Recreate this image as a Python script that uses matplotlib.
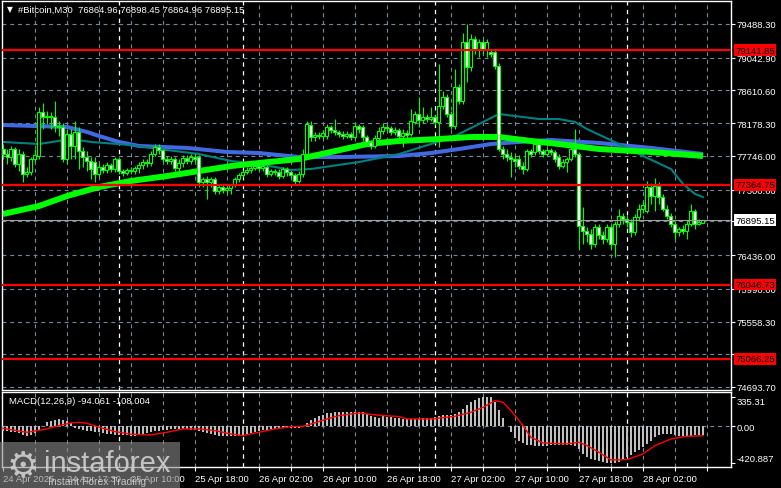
import numpy as np
import matplotlib
matplotlib.use("Agg")
import matplotlib.pyplot as plt
from matplotlib.patches import Rectangle
from matplotlib import transforms

plt.rcParams['font.family'] = ['Liberation Sans', 'DejaVu Sans']

# #Bitcoin M30 candles
opens = [77837, 77771, 77731, 77837, 77639, 77771, 77507, 77533, 77705, 77745,
         78326, 78260, 78273, 78260, 78141, 78128, 77705, 78035, 77877, 78062,
         77811, 77731, 77679, 77665, 77507, 77599, 77560, 77626, 77573, 77705,
         77546, 77520, 77560, 77546, 77586, 77626, 77665, 77652, 77771, 77864,
         77824, 77705, 77679, 77705, 77586, 77652, 77718, 77679, 77731, 77731,
         77401, 77441, 77401, 77441, 77282, 77335, 77296, 77322, 77362, 77441,
         77494, 77533, 77560, 77586, 77612, 77586, 77599, 77507, 77546, 77533,
         77480, 77573, 77533, 77494, 77415, 77507, 77771, 78154, 77996, 78022,
         78009, 78009, 78128, 78088, 78062, 78035, 78009, 78035, 77996, 78141,
         78128, 77996, 77930, 77877, 77982, 78075, 78128, 78114, 78062, 78088,
         78009, 78048, 78035, 78194, 78299, 78220, 78260, 78233, 78260, 78194,
         78405, 78524, 78299, 78141, 78656, 78471, 79251, 78920, 79290, 79158,
         79251, 79158, 79118, 79118, 78933, 77837, 77771, 77731, 77705, 77705,
         77612, 77573, 77811, 77798, 77903, 77811, 77771, 77824, 77798, 77731,
         77612, 77665, 77705, 77837, 77771, 76820, 76753, 76714, 76582, 76807,
         76701, 76649, 76807, 76582, 76846, 76952, 76913, 76873, 76741, 76939,
         77045, 77018, 77335, 77216, 77349, 77203, 77045, 76952, 76846, 76741,
         76781, 76754, 76846, 77018, 76846, 76864.96]
highs = [77903, 77837, 77877, 77864, 77837, 77811, 77599, 77731, 77837, 78392,
         78445, 78339, 78326, 78471, 78207, 78181, 78101, 78101, 78207, 78128,
         77864, 77811, 77731, 77731, 77639, 77639, 77665, 77652, 77731, 77731,
         77573, 77586, 77599, 77612, 77665, 77705, 77705, 77811, 77903, 77903,
         77837, 77745, 77745, 77731, 77705, 77758, 77758, 77771, 77771, 77758,
         77467, 77480, 77467, 77467, 77375, 77362, 77349, 77375, 77467, 77520,
         77560, 77599, 77626, 77639, 77639, 77639, 77626, 77573, 77573, 77573,
         77599, 77599, 77546, 77520, 77546, 77837, 78207, 78207, 78062, 78062,
         78088, 78167, 78154, 78233, 78088, 78075, 78075, 78062, 78181, 78167,
         78154, 78022, 77956, 78022, 78128, 78181, 78167, 78141, 78128, 78114,
         78101, 78088, 78366, 78339, 78524, 78392, 78299, 78392, 78286, 78960,
         78603, 78564, 78339, 78894, 78696, 79369, 79488, 79356, 79330, 79290,
         79290, 79290, 79158, 79158, 78973, 77877, 77837, 77798, 77771, 77758,
         77665, 77837, 77837, 77930, 77943, 77837, 77851, 77851, 77824, 77771,
         77705, 77731, 77864, 78101, 77798, 77071, 76807, 76780, 76846, 76846,
         76754, 76846, 76833, 76886, 77045, 76992, 76965, 76913, 76979, 77111,
         77150, 77415, 77388, 77454, 77401, 77243, 77098, 76992, 76886, 76807,
         76833, 76886, 77111, 77045, 76913, 76898.45]
lows = [77705, 77639, 77679, 77599, 77546, 77401, 77467, 77494, 77665, 77705,
        78101, 78167, 78101, 78062, 78009, 77665, 77639, 77705, 77705, 77573,
        77599, 77546, 77441, 77401, 77467, 77520, 77520, 77533, 77533, 77507,
        77480, 77494, 77507, 77507, 77520, 77573, 77599, 77612, 77745, 77771,
        77665, 77639, 77639, 77546, 77546, 77599, 77639, 77639, 77665, 77335,
        77335, 77177, 77335, 77243, 77243, 77256, 77256, 77243, 77335, 77401,
        77467, 77507, 77520, 77560, 77546, 77546, 77467, 77480, 77494, 77441,
        77454, 77480, 77454, 77375, 77388, 77467, 77731, 77943, 77943, 77969,
        77969, 77969, 78048, 78022, 77996, 77969, 77982, 77956, 77969, 78048,
        77943, 77890, 77837, 77851, 77956, 78035, 78075, 78022, 78022, 77969,
        77864, 77982, 78009, 78167, 78128, 78181, 78194, 78207, 78154, 77864,
        78366, 78260, 78101, 78101, 78432, 78432, 78722, 78867, 79092, 79052,
        79092, 79052, 79052, 78894, 77811, 77705, 77679, 77467, 77599, 77573,
        77507, 77546, 77731, 77758, 77771, 77731, 77745, 77758, 77665, 77573,
        77586, 77533, 77679, 77731, 76516, 76582, 76609, 76516, 76543, 76649,
        76582, 76609, 76516, 76411, 76807, 76846, 76807, 76675, 76701, 76886,
        76992, 76992, 77111, 77018, 77111, 77018, 76913, 76807, 76649, 76688,
        76714, 76649, 76820, 76781, 76833, 76864.96]
closes = [77771, 77731, 77837, 77639, 77771, 77507, 77533, 77705, 77758, 78326,
          78260, 78273, 78260, 78141, 78128, 77705, 78035, 77877, 78062, 77811,
          77731, 77679, 77573, 77507, 77599, 77560, 77626, 77573, 77705, 77546,
          77520, 77560, 77546, 77586, 77626, 77665, 77652, 77771, 77864, 77824,
          77705, 77679, 77705, 77586, 77652, 77718, 77679, 77731, 77705, 77401,
          77441, 77401, 77441, 77282, 77335, 77296, 77322, 77362, 77441, 77494,
          77533, 77560, 77586, 77612, 77586, 77612, 77507, 77546, 77533, 77480,
          77573, 77533, 77494, 77415, 77507, 77771, 78167, 77996, 78022, 78009,
          78048, 78128, 78088, 78062, 78035, 78009, 78035, 77996, 78141, 78101,
          77996, 77930, 77877, 77982, 78075, 78128, 78114, 78062, 78088, 78009,
          78048, 78022, 78207, 78299, 78220, 78260, 78233, 78260, 78194, 78405,
          78524, 78299, 78141, 78656, 78471, 79251, 78920, 79290, 79158, 79251,
          79158, 79251, 79092, 78933, 77837, 77771, 77731, 77705, 77679, 77612,
          77573, 77811, 77771, 77903, 77811, 77771, 77824, 77798, 77705, 77612,
          77665, 77705, 77837, 77771, 76820, 76753, 76714, 76582, 76807, 76701,
          76649, 76807, 76582, 76846, 76952, 76913, 76873, 76741, 76939, 77045,
          77098, 77335, 77216, 77349, 77203, 77045, 76952, 76846, 76741, 76781,
          76754, 76846, 77018, 76846, 76873, 76895.15]

# moving averages (bar index, price)
blue_idx = [0, 16, 21, 24, 29, 34, 46, 56, 64, 74, 84, 99, 107, 114, 122, 129, 137, 149, 162, 175]
blue_val = [78154, 78128, 78062, 78009, 77930, 77877, 77851, 77798, 77784, 77731,
            77731, 77745, 77784, 77837, 77903, 77930, 77956, 77917, 77851, 77771]
green_idx = [0, 9, 16, 24, 32, 41, 49, 57, 64, 74, 82, 91, 99, 109, 117, 124, 132, 139, 149, 162, 175]
green_val = [76979, 77084, 77216, 77335, 77415, 77480, 77546, 77612, 77652, 77705, 77798,
             77903, 77943, 77969, 77996, 77996, 77943, 77903, 77837, 77798, 77745]
teal_idx = [0, 9, 17, 22, 32, 39, 49, 57, 64, 72, 77, 82, 89, 99, 107, 113, 118, 122, 124, 128,
            134, 139, 143, 146, 154, 160, 167, 170, 173, 175]
teal_val = [77930, 77903, 77969, 77930, 77890, 77837, 77771, 77679, 77639, 77560, 77573, 77612,
            77665, 77771, 77903, 78009, 78141, 78247, 78299, 78273, 78233, 78233, 78194, 78101,
            77903, 77745, 77573, 77375, 77243, 77203]

# horizontal levels
red_levels = [79141.85, 77364.75, 76046.73, 75066.25]
bid = 76895.15
price_ticks = [79488.30, 79042.90, 78610.60, 78178.30, 77746.00, 77300.60,
               76881.40, 76436.00, 75990.00, 75558.30, 75126.00, 74693.70]

# MACD(12,26,9)
macd_hist = [-49, -57, -60, -68, -79, -98, -106, -98, -79, -38,
             8, 45, 64, 76, 83, 76, 60, 38, -23, -30,
             -38, -49, -57, -60, -68, -76, -83, -87, -95, -98,
             -98, -102, -106, -106, -98, -91, -79, -68, -57, -49,
             -45, -38, -30, -30, -26, -30, -30, -38, -42, -49,
             -68, -79, -87, -98, -106, -106, -110, -113, -113, -110,
             -98, -87, -76, -60, -49, -42, -38, -30, -30, -26,
             -23, -23, -19, -19, -15, -8, 38, 76, 95, 113,
             132, 147, 155, 159, 159, 159, 159, 159, 163, 163,
             159, 144, 121, 106, 98, 112, 110, 102, 95, 91,
             87, 83, 83, 83, 87, 91, 95, 95, 102, 113,
             129, 132, 132, 144, 159, 197, 242, 272, 299, 318,
             329, 335, 329, 280, 189, 91, 8, -68, -136, -163,
             -193, -212, -212, -219, -219, -219, -219, -215, -212, -212,
             -208, -208, -212, -219, -257, -314, -352, -370, -382, -393,
             -408, -420, -421, -416, -401, -378, -352, -325, -295, -265,
             -238, -200, -163, -125, -98, -91, -91, -91, -98, -106,
             -113, -110, -106, -102, -98, -94.061]
sig_idx = [0, 6, 11, 14, 17, 19, 21, 24, 28, 32, 37, 41, 45, 49, 53, 57, 60, 64, 68, 72,
           75, 77, 81, 84, 89, 94, 99, 101, 107, 113, 117, 120, 123, 125, 127, 130, 132, 135,
           141, 144, 146, 149, 152, 156, 160, 163, 167, 171, 175]
sig_val = [-23, -68, -30, 8, 38, 45, 34, -10, -60, -90, -98, -68, -30, -30, -49, -87, -106,
           -68, -30, -4, 0, 26, 83, 121, 151, 125, 110, 83, 83, 113, 159, 215, 291, 272, 178,
           8, -125, -189, -200, -181, -219, -295, -382, -378, -314, -219, -144, -113, -108.004]
macd_ticks = [335.31, 0.0, -420.887]
macd_tick_labels = ["335.31", "0.00", "-420.887"]

# time axis
label_bars = [0, 16, 32, 48, 64, 80, 96, 112, 128, 144, 160]
time_labels = ["24 Apr 2025", "24 Apr 17:30", "25 Apr 10:00", "25 Apr 18:00", "26 Apr 02:00",
               "26 Apr 10:00", "26 Apr 18:00", "27 Apr 02:00", "27 Apr 10:00", "27 Apr 18:00",
               "28 Apr 02:00"]
separator_bars = [29, 60, 108, 156]

W, H = 781, 489
GRID = '#778899'
LIME = '#00ff00'
fs = 6.8

fig = plt.figure(figsize=(W / 100, H / 100), dpi=100, facecolor='black')


def box(left, top, right, bottom):
    return [left / W, 1 - bottom / H, (right - left) / W, (bottom - top) / H]


ax = fig.add_axes(box(2, 2, 731, 391))
axm = fig.add_axes(box(2, 393, 731, 468), sharex=ax)

for a in (ax, axm):
    a.set_facecolor('black')
    for s in a.spines.values():
        s.set_color('white')
        s.set_linewidth(1)
    a.yaxis.tick_right()
    a.tick_params(axis='y', colors='white', length=3, width=0.8, pad=1, labelsize=fs)
    for g in range(8, 180, 8):
        a.axvline(g, color=GRID, lw=0.8, ls=(0, (3.5, 3.5)), zorder=1)
    for sb in separator_bars:
        a.axvline(sb, color='white', lw=0.9, ls=(0, (3.5, 3.5)), zorder=1)

ax.set_xlim(-0.25, 182)
ax.set_ylim(74654, 79792)
ax.set_yticks(price_ticks)
ax.set_yticklabels([f"{v:.2f}" for v in price_ticks])
for v in price_ticks:
    ax.axhline(v, color=GRID, lw=0.8, ls=(0, (3.5, 3.5)), zorder=1)
ax.tick_params(axis='x', bottom=False, labelbottom=False)

# moving averages
ax.plot(blue_idx, blue_val, color='#4169e1', lw=2.9, zorder=2, solid_capstyle='butt')
ax.plot(teal_idx, teal_val, color='#008080', lw=1.5, zorder=2)
ax.plot(green_idx, green_val, color=LIME, lw=4.3, zorder=2.5, solid_capstyle='butt')

# candles
o = np.array(opens)
h = np.array(highs)
l = np.array(lows)
c = np.array(closes)
idx = np.arange(len(c))
up = c >= o
ax.vlines(idx, l, h, color=LIME, lw=0.8, zorder=3)
ax.bar(idx, np.maximum(np.abs(c - o), 10), bottom=np.minimum(o, c), width=0.75,
       color=np.where(up, 'black', 'white'), edgecolor=LIME, linewidth=0.8, zorder=4)

# levels
for lv in red_levels:
    ax.axhline(lv, color='#ff0000', lw=1.6, zorder=5)
ax.axhline(bid, color='#a0a0a0', lw=0.8, zorder=5)

tr = transforms.blended_transform_factory(ax.transAxes, ax.transData)
for lv in red_levels:
    ax.text(1.0055, lv, f"{lv:.2f}", transform=tr, ha='left', va='center', fontsize=fs,
            color='black', zorder=6, clip_on=False,
            bbox=dict(boxstyle='square,pad=0.15', fc='#ff0000', ec='none'))
ax.text(1.0055, bid, f"{bid:.2f}", transform=tr, ha='left', va='center', fontsize=fs,
        color='black', zorder=6, clip_on=False,
        bbox=dict(boxstyle='square,pad=0.15', fc='white', ec='none'))

# MACD panel
axm.set_ylim(-462, 389)
axm.bar(idx, macd_hist, width=0.66, color='#c0c0c0', zorder=3, antialiased=False)
axm.plot(sig_idx, sig_val, color='#ff0000', lw=1.0, zorder=4)
axm.axhline(0, color=GRID, lw=0.8, ls=(0, (3.5, 3.5)), zorder=1)
axm.set_yticks(macd_ticks)
axm.set_yticklabels(macd_tick_labels)
labs = axm.get_yticklabels()
labs[0].set_va('top')
labs[2].set_va('bottom')
axm.set_xticks(label_bars)
axm.set_xticklabels(time_labels, ha='left')
axm.set_xticks(range(8, 180, 8), minor=True)
axm.tick_params(axis='x', which='both', colors='white', length=3, width=0.8, pad=2, labelsize=fs)
axm.text(7 / 729, 1 - 8 / 75, "MACD(12,26,9) -94.061 -108.004", transform=axm.transAxes,
         ha='left', va='center', fontsize=fs, color='white')

# header
fig.text(7 / W, 1 - 10 / H, "▼", fontsize=5.5, color='white', ha='left', va='center',
         family='DejaVu Sans')
fig.text(18 / W, 1 - 10 / H, "#Bitcoin,M30  76864.96 76898.45 76864.96 76895.15",
         fontsize=fs, color='white', ha='left', va='center')

# watermark
fig.add_artist(Rectangle((0, 0), 180 / W, 46 / H, transform=fig.transFigure,
                         fc='#8c8c8c', ec='none', alpha=0.6, zorder=10))
fig.text(23 / W, 1 - 466 / H, "⚙", fontsize=26, color='#d0d0d0', ha='center', va='center',
         family='DejaVu Sans', alpha=0.9, zorder=11)
fig.text(44 / W, 1 - 472 / H, "instaforex", fontsize=21, color='#d0d0d0', ha='left',
         va='baseline', alpha=0.9, zorder=11)
fig.text(48 / W, 1 - 482 / H, "Instant Forex Trading", fontsize=7.5, color='#d0d0d0',
         ha='left', va='center', alpha=0.9, zorder=11)

fig.savefig('out.png', dpi=100, facecolor='black')
